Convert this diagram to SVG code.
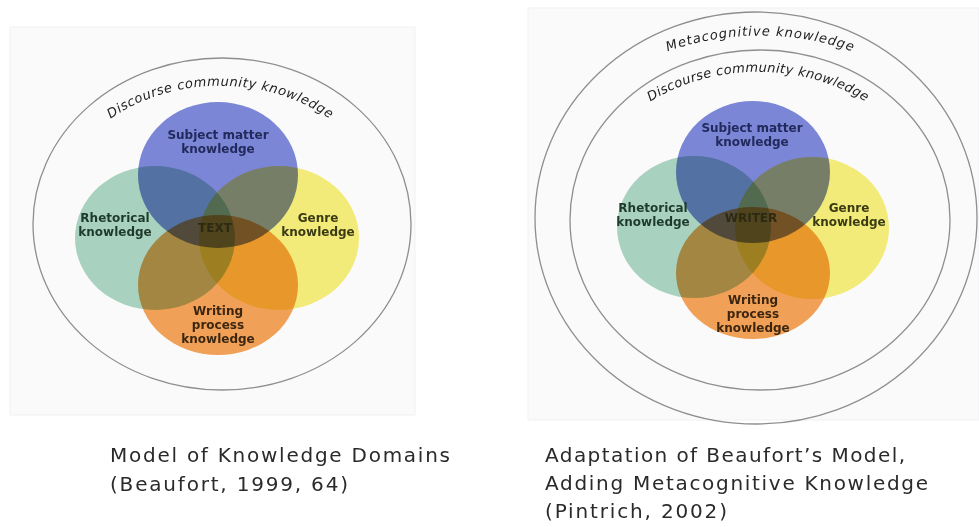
<svg xmlns="http://www.w3.org/2000/svg" width="979" height="527" viewBox="0 0 979 527">
<style>
.panel{fill:#fafafb;stroke:#f1f1f3;stroke-width:1}
.ring{fill:none;stroke:#8e8e8e;stroke-width:1.3}
.c{mix-blend-mode:multiply}
.blue{fill:#7d89da}
.green{fill:#add6c2}
.yellow{fill:#f7f07c}
.orange{fill:#f5a458}
.lbl{font-family:"DejaVu Sans",Verdana,sans-serif;font-weight:bold;font-size:12px;text-anchor:middle}
.arc{font-family:"DejaVu Sans",Verdana,sans-serif;font-style:italic;font-size:13px;fill:#222}
.cap{font-family:"DejaVu Sans",Verdana,sans-serif;font-size:20px;fill:#2a2a2a}
</style>
<defs>
<path id="arcL" d="M 96 130 A 170 140 0 0 1 344 130"/>
<path id="arcR1" d="M 656 56 A 200 140 0 0 1 864 56"/>
<path id="arcR2" d="M 638 110 A 180 150 0 0 1 878 110"/>
</defs>
<rect width="979" height="527" fill="#ffffff"/>

<g id="left-diagram">
<rect class="panel" x="10" y="27" width="405" height="388"/>
<g id="left-discourse">
<ellipse class="ring" cx="222" cy="224" rx="189" ry="166"/>
<text class="arc"><textPath href="#arcL" startOffset="50%" text-anchor="middle" textLength="232" lengthAdjust="spacing">Discourse community knowledge</textPath></text>
</g>
<g id="left-subject">
<ellipse class="c blue" cx="218" cy="175" rx="80" ry="73"/>
</g>
<g id="left-rhetorical">
<ellipse class="c green" cx="155" cy="238" rx="80" ry="72"/>
</g>
<g id="left-genre">
<ellipse class="c yellow" cx="279" cy="238" rx="80" ry="72"/>
</g>
<g id="left-writing">
<ellipse class="c orange" cx="218" cy="285" rx="80" ry="70"/>
</g>
<g id="left-labels">
<text class="lbl" fill="#222a5c" x="218" y="139">Subject matter<tspan x="218" dy="14">knowledge</tspan></text>
<text class="lbl" fill="#1e3a2c" x="115" y="222">Rhetorical<tspan x="115" dy="14">knowledge</tspan></text>
<text class="lbl" fill="#3a3a14" x="318" y="222">Genre<tspan x="318" dy="14">knowledge</tspan></text>
<text class="lbl" fill="#2c2a14" x="215" y="232" font-size="13.5">TEXT</text>
<text class="lbl" fill="#3d2610" x="218" y="315">Writing<tspan x="218" dy="14">process</tspan><tspan x="218" dy="14">knowledge</tspan></text>
</g>
</g>

<g id="right-diagram">
<rect class="panel" x="528" y="8" width="451" height="412"/>
<g id="right-metacognitive">
<ellipse class="ring" cx="756" cy="218" rx="221" ry="206"/>
<text class="arc"><textPath href="#arcR1" startOffset="50%" text-anchor="middle" textLength="188" lengthAdjust="spacing">Metacognitive knowledge</textPath></text>
</g>
<g id="right-discourse">
<ellipse class="ring" cx="760" cy="220" rx="190" ry="170"/>
<text class="arc"><textPath href="#arcR2" startOffset="50%" text-anchor="middle" textLength="226" lengthAdjust="spacing">Discourse community knowledge</textPath></text>
</g>
<g id="right-subject">
<ellipse class="c blue" cx="753" cy="172" rx="77" ry="71"/>
</g>
<g id="right-rhetorical">
<ellipse class="c green" cx="694" cy="227" rx="77" ry="71"/>
</g>
<g id="right-genre">
<ellipse class="c yellow" cx="812" cy="228" rx="77" ry="71"/>
</g>
<g id="right-writing">
<ellipse class="c orange" cx="753" cy="273" rx="77" ry="66"/>
</g>
<g id="right-labels">
<text class="lbl" fill="#222a5c" x="752" y="132">Subject matter<tspan x="752" dy="14">knowledge</tspan></text>
<text class="lbl" fill="#1e3a2c" x="653" y="212">Rhetorical<tspan x="653" dy="14">knowledge</tspan></text>
<text class="lbl" fill="#3a3a14" x="849" y="212">Genre<tspan x="849" dy="14">knowledge</tspan></text>
<text class="lbl" fill="#2c2a14" x="751" y="222" font-size="14.5">WRITER</text>
<text class="lbl" fill="#3d2610" x="753" y="304">Writing<tspan x="753" dy="14">process</tspan><tspan x="753" dy="14">knowledge</tspan></text>
</g>
</g>

<g id="captions">
<text class="cap" x="110" y="462" textLength="340" lengthAdjust="spacing">Model of Knowledge Domains</text>
<text class="cap" x="110" y="491" textLength="238" lengthAdjust="spacing">(Beaufort, 1999, 64)</text>
<text class="cap" x="545" y="462" textLength="360" lengthAdjust="spacing">Adaptation of Beaufort’s Model,</text>
<text class="cap" x="545" y="490" textLength="383" lengthAdjust="spacing">Adding Metacognitive Knowledge</text>
<text class="cap" x="545" y="518" textLength="182" lengthAdjust="spacing">(Pintrich, 2002)</text>
</g>
</svg>
